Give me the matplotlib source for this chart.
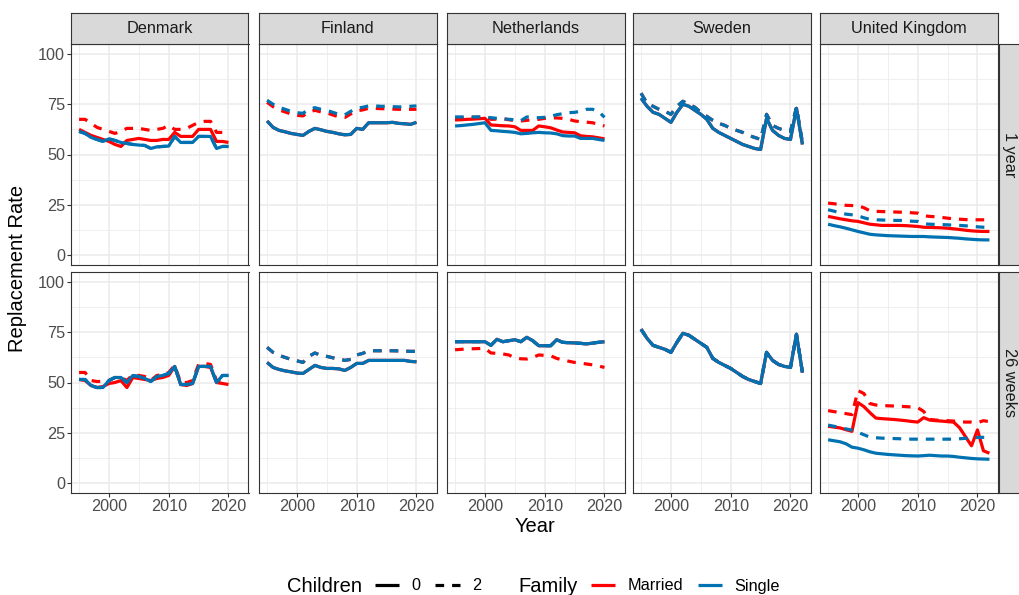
import matplotlib.pyplot as plt
from matplotlib.lines import Line2D
import numpy as np

plt.rcParams['font.family'] = ['Liberation Sans', 'DejaVu Sans']

# ---- data -------------------------------------------------------------
years_short = list(range(1995, 2021))
years_long = list(range(1995, 2023))

countries = ['Denmark', 'Finland', 'Netherlands', 'Sweden', 'United Kingdom']
durations = ['1 year', '26 weeks']
y_ticks = [0, 25, 50, 75, 100]
x_ticks = [2000, 2010, 2020]

# Denmark
dk_1y_married_0 = [62.5, 61, 59.5, 58.5, 57.5, 56.5, 55, 54, 57, 57.5, 58, 57.5, 57,
                   57, 57.5, 57.5, 61, 59, 59, 59, 62.5, 62.5, 62.5, 56.5, 56.5, 56]
dk_1y_married_2 = [67.5, 67.5, 65.5, 63.5, 62.5, 61.5, 60.5, 61.5, 63, 63, 63, 62.5, 62,
                   62.5, 63, 64.5, 62.5, 62.5, 63, 64.5, 66, 66.5, 66.5, 61, 61, 61]
dk_1y_single_0 = [61.5, 60.5, 58.5, 57.5, 56.5, 57.8, 57, 56, 55.5, 55, 54.7, 54.5, 53,
                  53.8, 54, 54.2, 59, 56, 56, 56, 59, 59, 59, 53, 54, 54]
dk_1y_single_2 = dk_1y_single_0
dk_26w_married_0 = [51.5, 51, 48.5, 47.5, 48, 49.5, 50, 51, 47.5, 52.5, 52, 51.5, 51,
                    52, 52.5, 53.5, 58, 49, 48.5, 49.5, 58, 58, 57.5, 50, 49.5, 49]
dk_26w_married_2 = [55, 55, 51, 50.5, 50.5, 51, 52.5, 52.5, 51, 54, 53.5, 53, 51,
                    53.5, 54, 55, 58.5, 50, 50, 51, 59, 59.5, 59, 51, 51, 50.5]
dk_26w_single_0 = [51.5, 51.5, 48.5, 47.5, 47.5, 51, 52.5, 52.5, 50, 53.5, 53, 52, 50.5,
                   53, 53.5, 54.5, 58, 49, 49, 49.5, 58, 58, 58, 50, 53.5, 53.5]
dk_26w_single_2 = dk_26w_single_0

# Finland
fi_1y_single_0 = [66.7, 63.5, 62, 61.3, 60.5, 60, 59.5, 61.5, 63, 62.3, 61.5, 61, 60.3,
                  59.8, 60, 63, 62.5, 65.8, 65.8, 65.8, 65.8, 66, 65.5, 65.3, 65, 66]
fi_1y_married_0 = fi_1y_single_0
fi_1y_single_2 = [77, 75, 73.5, 72.5, 71.5, 70.8, 70.5, 72.5, 73.3, 72.5, 72, 71, 70,
                  69.7, 71.5, 73, 73.5, 74.2, 74.2, 74, 74, 73.8, 73.7, 73.7, 74, 74.2]
fi_1y_married_2 = [76, 73.8, 72.2, 71.2, 70.2, 69.5, 69.2, 71.2, 72, 71.2, 70.7, 69.7, 68.7,
                   68.4, 70.2, 71.7, 72.2, 73, 73, 72.8, 72.8, 72.6, 72.5, 72.4, 72.5, 72.5]
fi_26w_single_0 = [60, 57.5, 56.5, 55.8, 55.3, 54.7, 54.5, 56.5, 58.5, 57.5, 57, 57, 56.8,
                   56, 57.5, 59.5, 59.5, 61, 61, 61, 61, 61, 61, 61, 60.5, 60.3]
fi_26w_married_0 = fi_26w_single_0
fi_26w_single_2 = [67.5, 65, 63.5, 62.5, 61.5, 60.8, 60, 63, 64.7, 63.5, 63, 62.3, 61.7,
                   61, 61.5, 63.7, 64.5, 65.8, 65.8, 65.8, 65.8, 65.8, 65.7, 65.6, 65.5, 65.5]
fi_26w_married_2 = fi_26w_single_2

# Netherlands
nl_1y_married_0 = [67.2, 67.3, 67.5, 67.6, 67.8, 68, 64.7, 64.5, 64.3, 64.2, 63.8, 62, 62,
                   62, 64.2, 63.8, 63.3, 62.2, 61.2, 61, 60.8, 59.3, 59, 58.8, 58.3, 57.8]
nl_1y_married_2 = [68, 68.2, 68.3, 68.5, 68.6, 68.7, 67.5, 67.6, 67.8, 67.3, 66.9, 66.7, 67,
                   67.3, 67.5, 68, 68.3, 68.2, 68, 67.5, 66.7, 66.3, 66.1, 65.8, 65, 64.2]
nl_1y_single_0 = [64.2, 64.4, 64.7, 65, 65.4, 65.8, 62, 61.8, 61.5, 61.3, 61, 60.3, 60.5,
                  60.8, 61, 60.8, 60.7, 60.3, 59.4, 59.2, 59.2, 58, 58, 58, 57.5, 57]
nl_1y_single_2 = [68.7, 68.7, 68.7, 68.7, 68.7, 68.7, 68.3, 68, 67.8, 67.5, 67.3, 66.8, 68.7,
                  68.5, 68.3, 68.5, 69, 69.8, 70.3, 70.8, 71, 71.5, 72.5, 72.5, 71.5, 68.5]
nl_26w_single_0 = [70.3, 70.3, 70.3, 70.3, 70.3, 70.3, 68.5, 71.5, 70.3, 70.8, 71.3, 70.3, 72.5,
                   70.8, 68.3, 68.3, 68.3, 71.3, 70, 69.8, 69.7, 69.5, 69.2, 69.6, 70, 70.3]
nl_26w_married_0 = nl_26w_single_0
nl_26w_married_2 = [66.3, 66.5, 66.7, 66.8, 66.9, 67, 64.7, 64.5, 64.2, 63.7, 62.3, 61.8, 61.7,
                    62.5, 63.7, 63.5, 63.3, 62, 61.2, 60.6, 60, 59.7, 59.2, 58.8, 58.2, 57.5]
nl_26w_single_2 = nl_26w_single_0

# Sweden
se_1y_single_0 = [78, 74, 71, 70, 68, 66, 71, 75, 74, 72, 70, 67.5, 63, 61,
                  59.5, 58, 56.5, 55, 54, 53, 52.5, 68, 62, 59.5, 58, 57.5, 73, 55]
se_1y_married_0 = se_1y_single_0
se_1y_single_2 = [80.5, 75.5, 74, 72.5, 71.5, 70, 74, 76.5, 75, 73.5, 71, 69, 67, 65.5,
                  64.5, 63, 62, 61, 59.5, 58.5, 57.5, 70, 64.5, 63, 62, 61.5, 73.5, 56]
se_1y_married_2 = se_1y_single_2
se_26w_single_0 = [76.5, 72, 68.5, 67.5, 66.5, 65, 70, 74.5, 73.5, 71.5, 69.5, 67.5, 62, 60,
                   58.5, 57, 55, 53, 51.5, 50.5, 49.5, 65, 61, 59, 58, 57.5, 74, 55]
se_26w_married_0 = se_26w_single_0
se_26w_single_2 = se_26w_single_0
se_26w_married_2 = se_26w_single_0

# United Kingdom
uk_1y_married_0 = [19.2, 18.6, 18, 17.5, 17, 16.7, 16, 15.3, 15, 14.7, 14.7, 14.7, 14.7, 14.6,
                   14.4, 14.2, 13.8, 13.7, 13.6, 13.5, 13.3, 13, 12.7, 12.3, 12, 11.8, 11.7, 11.7]
uk_1y_married_2 = [25.8, 25.5, 25, 24.7, 24.6, 24.5, 23.5, 22, 21.7, 21.6, 21.5, 21.4, 21.3, 21.3,
                   21, 20.8, 19.5, 19.2, 19, 18.7, 18.3, 18, 17.8, 17.6, 17.5, 17.5, 17.5, 17.5]
uk_1y_single_0 = [15.3, 14.6, 14, 13.3, 12.5, 11.7, 11, 10.3, 10, 9.8, 9.6, 9.5, 9.4, 9.3,
                  9.2, 9.2, 9.2, 9, 8.9, 8.8, 8.7, 8.5, 8.3, 8, 7.8, 7.6, 7.5, 7.5]
uk_1y_single_2 = [22.5, 21.8, 21, 20.3, 20, 19.5, 18.5, 17.7, 17.5, 17.4, 17.3, 17.2, 17.2, 17,
                  16.8, 16.7, 15.5, 15.3, 15.2, 15.1, 15, 14.8, 14.7, 14.5, 14.3, 14, 13.8, 13.7]
uk_26w_married_0 = [28.2, 27.8, 27.4, 26.5, 25.7, 40, 38, 35, 32.3, 32, 31.8, 31.6, 31.3, 31,
                    30.6, 30.3, 32.5, 31.3, 31, 30.8, 30.5, 30.3, 27.5, 23, 18.5, 26.4, 16, 14.8]
uk_26w_married_2 = [36, 35.5, 35, 34.5, 34, 46, 44.5, 39.5, 38.8, 38.6, 38.4, 38.3, 38.2, 38,
                    37.8, 37.5, 35.6, 31.6, 31.3, 31.1, 31, 30.8, 30.5, 30.3, 30.3, 30, 31, 30.5]
uk_26w_single_0 = [21.5, 21, 20.5, 19.5, 17.8, 17.3, 16.5, 15.5, 14.8, 14.5, 14.2, 14, 13.8, 13.6,
                   13.5, 13.4, 13.6, 13.8, 13.6, 13.4, 13.4, 13.2, 12.8, 12.5, 12.2, 12, 11.9, 11.8]
uk_26w_single_2 = [28.8, 28.2, 27.5, 26.9, 26.3, 25.2, 24, 22.8, 22.5, 22.3, 22.2, 22.1, 22, 21.9,
                   21.8, 21.8, 21.8, 21.8, 21.8, 21.8, 21.8, 21.8, 22, 22.2, 22.4, 22.7, 22.7, 22.7]

# (years, married/0, married/2, single/0, single/2) per facet
panels = {
    ('Denmark', '1 year'): (years_short, dk_1y_married_0, dk_1y_married_2, dk_1y_single_0, dk_1y_single_2),
    ('Denmark', '26 weeks'): (years_short, dk_26w_married_0, dk_26w_married_2, dk_26w_single_0, dk_26w_single_2),
    ('Finland', '1 year'): (years_short, fi_1y_married_0, fi_1y_married_2, fi_1y_single_0, fi_1y_single_2),
    ('Finland', '26 weeks'): (years_short, fi_26w_married_0, fi_26w_married_2, fi_26w_single_0, fi_26w_single_2),
    ('Netherlands', '1 year'): (years_short, nl_1y_married_0, nl_1y_married_2, nl_1y_single_0, nl_1y_single_2),
    ('Netherlands', '26 weeks'): (years_short, nl_26w_married_0, nl_26w_married_2, nl_26w_single_0, nl_26w_single_2),
    ('Sweden', '1 year'): (years_long, se_1y_married_0, se_1y_married_2, se_1y_single_0, se_1y_single_2),
    ('Sweden', '26 weeks'): (years_long, se_26w_married_0, se_26w_married_2, se_26w_single_0, se_26w_single_2),
    ('United Kingdom', '1 year'): (years_long, uk_1y_married_0, uk_1y_married_2, uk_1y_single_0, uk_1y_single_2),
    ('United Kingdom', '26 weeks'): (years_long, uk_26w_married_0, uk_26w_married_2, uk_26w_single_0, uk_26w_single_2),
}

# ---- styling ----------------------------------------------------------
RED = '#FF0000'
BLUE = '#0072B2'
LW = 2.3
DASH = (0, (2.7, 2.5))
BORDER = '#333333'
STRIP_BG = '#D9D9D9'
TICK_TXT = '#4D4D4D'
GRID = '#EBEBEB'

W, H = 1019, 595
fig = plt.figure(figsize=(W / 100, H / 100), dpi=100)


def px_axes(x0, y0, w, h):
    # axes placed by pixel box measured from the top-left corner
    return fig.add_axes([x0 / W, 1 - (y0 + h) / H, w / W, h / H])


col_left = [71, 259, 447, 633, 820]
col_w = 177.5
row_top = [44, 272]
row_h = 221

x_lo, x_hi = 1995, 2022
x_pad = 0.05 * (x_hi - x_lo)

for r, dur in enumerate(durations):
    for c, country in enumerate(countries):
        ax = px_axes(col_left[c], row_top[r], col_w, row_h)
        yrs, m0, m2, s0, s2 = panels[(country, dur)]
        line_kw = dict(lw=LW, solid_capstyle='butt', dash_capstyle='butt',
                       solid_joinstyle='round', dash_joinstyle='round')
        ax.plot(yrs, m0, color=RED, ls='-', **line_kw)
        ax.plot(yrs, m2, color=RED, ls=DASH, **line_kw)
        ax.plot(yrs, s0, color=BLUE, ls='-', **line_kw)
        ax.plot(yrs, s2, color=BLUE, ls=DASH, **line_kw)

        ax.set_xlim(x_lo - x_pad, x_hi + x_pad)
        ax.set_ylim(-5, 105)
        ax.set_xticks(x_ticks)
        ax.set_xticks([1995, 2005, 2015], minor=True)
        ax.set_yticks(y_ticks)
        ax.set_yticks([12.5, 37.5, 62.5, 87.5], minor=True)
        ax.grid(which='major', color=GRID, lw=1.1)
        ax.grid(which='minor', color=GRID, lw=0.55)
        ax.set_axisbelow(True)
        for sp in ax.spines.values():
            sp.set_color(BORDER)
            sp.set_linewidth(0.8)
        ax.tick_params(which='minor', length=0)
        ax.tick_params(which='major', length=2.7, width=0.8, color=BORDER,
                       labelsize=11.7, labelcolor=TICK_TXT, pad=1.6)
        if c > 0:
            ax.tick_params(axis='y', which='major', length=0, labelleft=False)
        if r == 0:
            ax.tick_params(axis='x', which='major', length=0, labelbottom=False)

        if r == 0:
            st = px_axes(col_left[c], 13, col_w, 31)
            st.set_facecolor(STRIP_BG)
            st.set_xticks([])
            st.set_yticks([])
            for sp in st.spines.values():
                sp.set_color(BORDER)
                sp.set_linewidth(0.8)
            st.text(0.5, 0.5, country, ha='center', va='center',
                    fontsize=11.7, color='#1A1A1A', transform=st.transAxes)

    rs = px_axes(999, row_top[r], 24, row_h)
    rs.set_facecolor(STRIP_BG)
    rs.set_xticks([])
    rs.set_yticks([])
    for sp in rs.spines.values():
        sp.set_color(BORDER)
        sp.set_linewidth(0.8)
    rs.text(0.45, 0.5, dur, ha='center', va='center', rotation=-90,
            fontsize=11.7, color='#1A1A1A', transform=rs.transAxes)

fig.text(535 / W, 1 - 527 / H, 'Year', ha='center', va='center', fontsize=14.5)
fig.text(18 / W, 1 - 268 / H, 'Replacement Rate', ha='center', va='center',
         rotation=90, fontsize=14.5)

# ---- legends ----------------------------------------------------------
leg_y = 1 - 586 / H
leg_kw = dict(ncol=2, loc='center left', frameon=False, fontsize=11.7,
              handlelength=1.5, handletextpad=0.75, columnspacing=0.9,
              borderpad=0, borderaxespad=0)

child_handles = [Line2D([], [], color='black', lw=LW, ls='-', solid_capstyle='butt'),
                 Line2D([], [], color='black', lw=LW, ls=DASH, dash_capstyle='butt')]
fig.legend(child_handles, ['0', '2'], bbox_to_anchor=(375 / W, leg_y), **leg_kw)
fig.text(362 / W, leg_y, 'Children', ha='right', va='center', fontsize=14.5)

family_handles = [Line2D([], [], color=RED, lw=LW, solid_capstyle='butt'),
                  Line2D([], [], color=BLUE, lw=LW, solid_capstyle='butt')]
fig.legend(family_handles, ['Married', 'Single'], bbox_to_anchor=(591 / W, leg_y), **leg_kw)
fig.text(578 / W, leg_y, 'Family', ha='right', va='center', fontsize=14.5)

fig.savefig('out.png', dpi=100)
